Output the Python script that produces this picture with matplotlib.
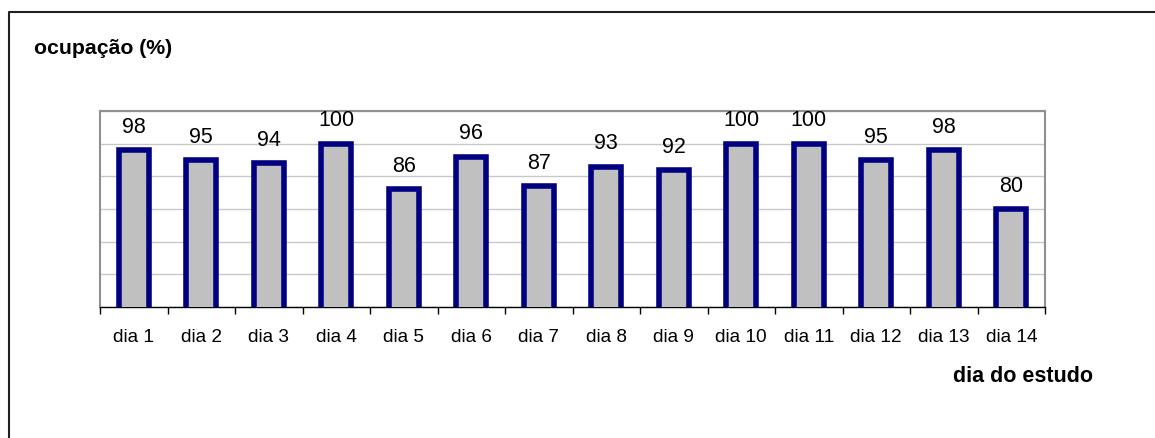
import numpy as np
import matplotlib.pyplot as plt
from matplotlib.lines import Line2D

plt.rcParams['font.family'] = ['Liberation Sans', 'DejaVu Sans']

# dados
dias = ['dia 1', 'dia 2', 'dia 3', 'dia 4', 'dia 5', 'dia 6', 'dia 7',
        'dia 8', 'dia 9', 'dia 10', 'dia 11', 'dia 12', 'dia 13', 'dia 14']
ocupacao = [98, 95, 94, 100, 86, 96, 87, 93, 92, 100, 100, 95, 98, 80]

W, H = 1155, 439
fig = plt.figure(figsize=(W / 100, H / 100), dpi=100)
ax = fig.add_axes([100 / W, 1 - 308 / H, 945 / W, 196 / H])

x = np.arange(len(dias))
ax.bar(x, ocupacao, width=0.44, color='#c0c0c0', edgecolor='#000080',
       linewidth=4, zorder=3)

for xi, v in zip(x, ocupacao):
    ax.text(xi, v + 5.6, str(v), ha='center', va='baseline', fontsize=15.5)

ax.set_xlim(-0.5, len(dias) - 0.5)
ax.set_ylim(50, 110)
ax.set_yticks(np.arange(50, 111, 10))
ax.yaxis.grid(True, color='#c8c8c8', linewidth=1, zorder=0)
ax.tick_params(axis='y', left=False, labelleft=False)

ax.set_xticks(x)
ax.set_xticklabels(dias, fontsize=13.7)
ax.set_xticks(np.arange(-0.5, len(dias)), minor=True)
ax.tick_params(axis='x', which='major', length=0, pad=15)
ax.tick_params(axis='x', which='minor', length=5, width=1, direction='out', color='black')

for s in ['left', 'top', 'right']:
    ax.spines[s].set_color('#909090')
    ax.spines[s].set_linewidth(1.5)
ax.spines['bottom'].set_color('black')
ax.spines['bottom'].set_linewidth(1)

fig.text(34 / W, 1 - 49 / H, 'ocupação (%)', fontsize=15.3, fontweight='bold',
         ha='left', va='center')
fig.text(1023 / W, 1 - 377 / H, 'dia do estudo', fontsize=15.5, fontweight='bold',
         ha='center', va='center')

# moldura externa
fig.add_artist(Line2D([8.5 / W, 8.5 / W, 1], [0, 1 - 13 / H, 1 - 13 / H],
                      transform=fig.transFigure, color='#202020', linewidth=1.5))

fig.savefig('out.png', dpi=100)
